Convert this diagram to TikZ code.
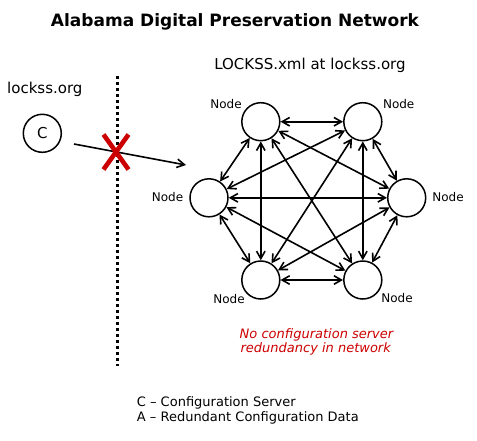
\documentclass[tikz,border=0pt]{standalone}
\usepackage{fontspec}
\setmainfont{DejaVu Sans}
\usetikzlibrary{arrows.meta}
\definecolor{xred}{RGB}{204,0,0}
\begin{document}
\begin{tikzpicture}[x=1pt,y=-1pt,
  peer/.style={circle,draw,line width=1.5pt,minimum size=38pt,inner sep=0pt},
  lbl/.style={anchor=base,font=\fontsize{12}{14}\selectfont,inner sep=0pt},
  link/.style={line width=1.6pt,{Straight Barb[length=7.5pt,width=8.5pt]}-{Straight Barb[length=7.5pt,width=8.5pt]}},
  plain/.style={anchor=base,inner sep=0pt}]
\useasboundingbox (0,0) rectangle (477,440);
\fill[white] (0,0) rectangle (477,440);
% title
\node[plain,font=\bfseries\fontsize{17}{19}\selectfont] (title) at (235,26) {Alabama Digital Preservation Network};
\node[plain,font=\fontsize{15}{17}\selectfont] (xml) at (310,69.3) {LOCKSS.xml at lockss.org};
\node[plain,anchor=base west,font=\fontsize{15}{17}\selectfont] (org) at (7,93.3) {lockss.org};
% divider
\coordinate (dtop) at (117.3,76);
\coordinate (dbot) at (117.3,366);
\draw[line width=3pt,dash pattern=on 3pt off 3pt] (dtop) -- (dbot);
% config server
\node[peer,font=\fontsize{15}{17}\selectfont] (C) at (42.3,133.3) {C};
\coordinate (cs) at (74,144);
\coordinate (ce) at (186,165);
\draw[line width=1.6pt,-{Straight Barb[length=7.5pt,width=8.5pt]}] (cs) -- (ce);
% red X
\coordinate (xa) at (103.5,134.5);
\coordinate (xb) at (128.5,169.5);
\coordinate (xc) at (128.5,134.5);
\coordinate (xd) at (103.5,169.5);
\draw[xred,line width=4.6pt] (xa) -- (xb);
\draw[xred,line width=4.6pt] (xc) -- (xd);
% peers
\node[peer] (tl) at (260.8,121.7) {};
\node[peer] (tr) at (362.8,121.7) {};
\node[peer] (l) at (209,197.8) {};
\node[peer] (r) at (406.7,197.8) {};
\node[peer] (bl) at (260.8,280) {};
\node[peer] (br) at (362.8,280) {};
\node[lbl] (ltl) at (226,108) {Node};
\node[lbl] (ltr) at (398.7,108) {Node};
\node[lbl] (ll) at (167.5,201.7) {Node};
\node[lbl] (lr) at (448,201.7) {Node};
\node[lbl] (lbl) at (229,303) {Node};
\node[lbl] (lbr) at (397,302) {Node};
% links
\foreach \a/\b in {tl/tr,tl/l,tl/r,tl/bl,tl/br,tr/l,tr/r,tr/bl,tr/br,l/r,l/bl,l/br,r/bl,r/br,bl/br}
  \draw[link] (\a) -- (\b);
% red note
\node[plain,text=xred,font=\itshape\fontsize{13}{15}\selectfont] (n1) at (316.5,338.3) {No configuration server};
\node[plain,text=xred,font=\itshape\fontsize{13}{15}\selectfont] (n2) at (315.7,352.7) {redundancy in network};
% legend
\node[plain,anchor=base west,font=\fontsize{13}{15}\selectfont] (g1) at (136.7,406.7) {C – Configuration Server};
\node[plain,anchor=base west,font=\fontsize{13}{15}\selectfont] (g2) at (136.7,421.7) {A – Redundant Configuration Data};
\end{tikzpicture}
\end{document}
